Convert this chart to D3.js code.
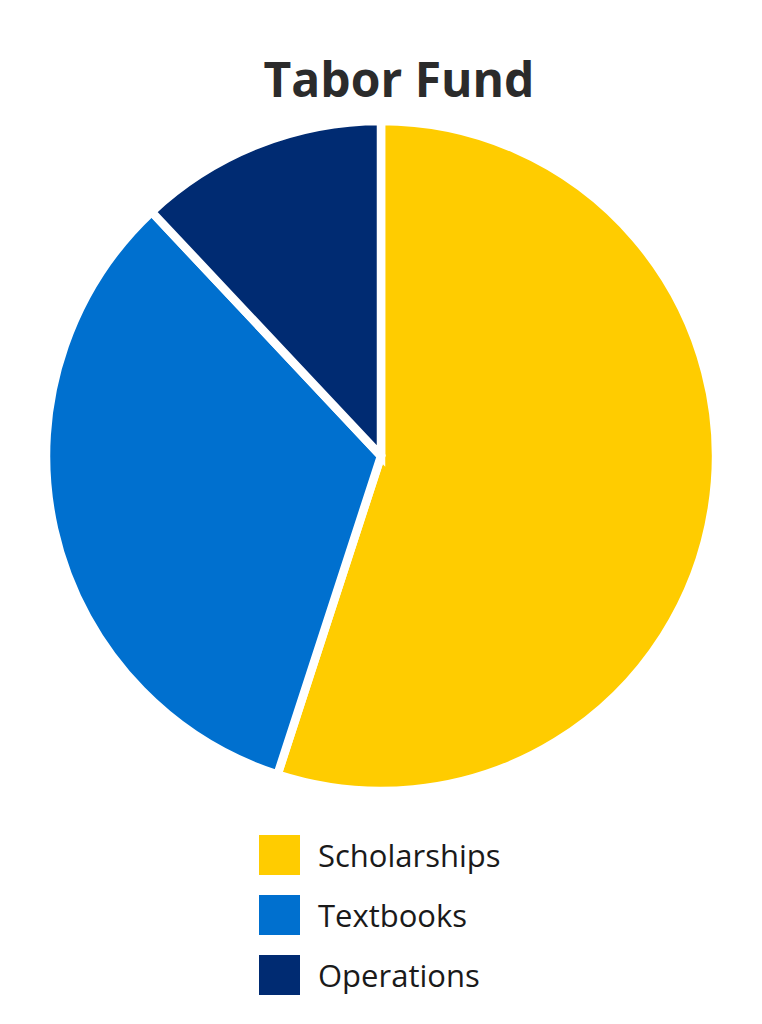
<!DOCTYPE html>
<html>
<head>
<meta charset="utf-8">
<script src="https://cdn.jsdelivr.net/npm/d3@7"></script>
<style>
  html, body { margin: 0; padding: 0; background: #fff; }
  svg { display: block; }
</style>
</head>
<body>
<svg id="chart" width="762" height="1024"></svg>
<script>
const title = "Tabor Fund";
const categories = ["Scholarships", "Textbooks", "Operations"];
const values = [55, 33, 12];
const colors = ["#FFCC00", "#0070CF", "#002B72"];

const svg = d3.select("#chart");
const W = 762, H = 1024;
svg.append("rect").attr("width", W).attr("height", H).attr("fill", "#fff");

svg.append("text")
  .attr("x", 399).attr("y", 97)
  .attr("text-anchor", "middle")
  .attr("font-family", "'Open Sans', sans-serif")
  .attr("font-weight", "bold")
  .attr("font-size", 48)
  .attr("fill", "#2b2b2b")
  .text(title);

const cx = 381, cy = 456, R = 335;
const data = categories.map((c, i) => ({ cat: c, value: values[i], color: colors[i] }));
const pie = d3.pie().value(d => d.value).sort(null);
const arc = d3.arc().innerRadius(0).outerRadius(R);

svg.append("g").attr("transform", `translate(${cx},${cy})`)
  .selectAll("path")
  .data(pie(data))
  .join("path")
  .attr("d", arc)
  .attr("fill", d => d.data.color)
  .attr("stroke", "#fff")
  .attr("stroke-width", 8.5)
  .attr("stroke-linejoin", "miter");

const legend = svg.append("g");
const rows = legend.selectAll("g").data(data).join("g")
  .attr("transform", (d, i) => `translate(259, ${835 + i * 60})`);
rows.append("rect").attr("width", 41).attr("height", 40).attr("fill", d => d.color);
rows.append("text")
  .attr("x", 59).attr("y", 32)
  .attr("font-family", "'Open Sans', sans-serif")
  .attr("font-size", 31)
  .attr("fill", "#1a1a1a")
  .text(d => d.cat);
</script>
</body>
</html>
